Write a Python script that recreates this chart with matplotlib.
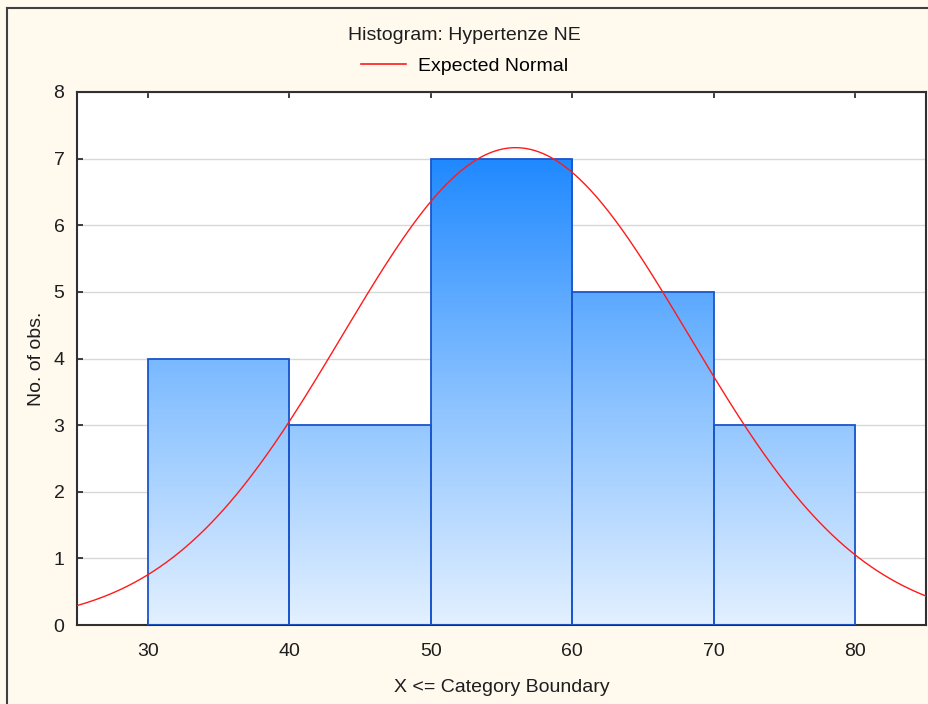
import numpy as np
import matplotlib
matplotlib.use("Agg")
import matplotlib.pyplot as plt
from matplotlib.colors import LinearSegmentedColormap
from matplotlib.lines import Line2D

plt.rcParams['font.family'] = ['Liberation Sans', 'DejaVu Sans']

# Histogram data
bin_edges = [30, 40, 50, 60, 70, 80]
counts = [4, 3, 7, 5, 3]
x_ticks = [30, 40, 50, 60, 70, 80]
y_ticks = [0, 1, 2, 3, 4, 5, 6, 7, 8]

# Expected normal parameters
n_obs = sum(counts)
mean_val = 56.0
sd_val = 12.25
bin_width = 10

title = "Histogram: Hypertenze NE"
xlabel = "X <= Category Boundary"
ylabel = "No. of obs."

FS = 14
TXT = "#1E1E1E"
BG = "#FFF9EE"
fig = plt.figure(figsize=(9.29, 7.04), dpi=100, facecolor=BG)
W, H = 929, 704
ax = fig.add_axes([77 / W, 1 - 625 / H, (926 - 77) / W, (625 - 92) / H])
ax.set_facecolor("white")
ax.set_xlim(25, 85)
ax.set_ylim(0, 8)

# outer frame lines (left and top)
fig.add_artist(Line2D([7 / W, 7 / W], [0, 1 - 8 / H], color="#404040", lw=1.5,
                      transform=fig.transFigure))
fig.add_artist(Line2D([7 / W, 1], [1 - 8 / H, 1 - 8 / H], color="#404040", lw=1.5,
                      transform=fig.transFigure))

ax.yaxis.grid(True, color="#D8D8D8", lw=1.0)
ax.set_axisbelow(True)

# gradient fill keyed to bar height
cmap = LinearSegmentedColormap.from_list(
    "bargrad", [(0.0, "#E3F0FF"), (0.45, "#8EC4FF"), (1.0, "#1A86FF")])
grad = np.linspace(0, 1, 256).reshape(-1, 1)
for left, right, c in zip(bin_edges[:-1], bin_edges[1:], counts):
    im = ax.imshow(grad, extent=[left, right, 0, 7.2], origin="lower",
                   cmap=cmap, aspect="auto", zorder=2)
    rect = plt.Rectangle((left, 0), right - left, c, facecolor="none",
                         edgecolor="#1A55CC", lw=1.3, zorder=3)
    ax.add_patch(rect)
    im.set_clip_path(rect)

# expected normal curve
xs = np.linspace(25, 85, 400)
ys = n_obs * bin_width / (sd_val * np.sqrt(2 * np.pi)) * np.exp(-0.5 * ((xs - mean_val) / sd_val) ** 2)
ax.plot(xs, ys, color="#FF1A1A", lw=1.0, zorder=4, label="Expected Normal")

ax.set_xticks(x_ticks)
ax.set_yticks(y_ticks)
ax.tick_params(direction="in", length=4, width=1.2, labelsize=FS, colors=TXT,
               top=True, right=False)
ax.tick_params(axis="x", pad=13)
ax.tick_params(axis="y", pad=9)
for sp in ax.spines.values():
    sp.set_color("#303030")
    sp.set_linewidth(1.5)

ax.set_xlabel(xlabel, fontsize=FS, labelpad=14, color=TXT)
ax.set_ylabel(ylabel, fontsize=FS, labelpad=6, color=TXT)

fig.text(0.5, 1 - 35 / H, title, ha="center", va="center", fontsize=FS, color=TXT)
leg = fig.legend(handles=[Line2D([], [], color="#FF1A1A", lw=1.2)], labels=["Expected Normal"],
                 loc="center", bbox_to_anchor=(0.5, 1 - 66 / H), frameon=False,
                 fontsize=FS, handlelength=2.3, handletextpad=0.6)

fig.savefig("out.png", dpi=100, facecolor=BG)
